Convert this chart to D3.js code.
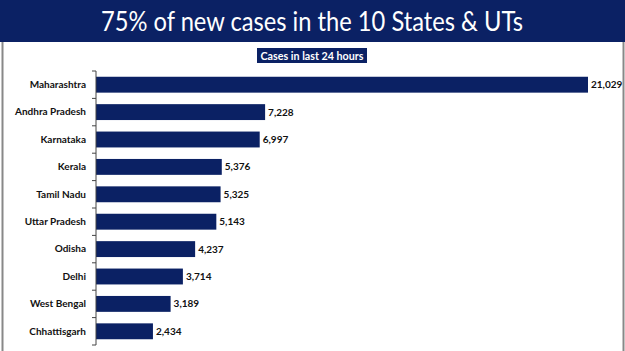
<!DOCTYPE html>
<html>
<head>
    <meta charset="utf-8">
    <title>75% of new cases in the 10 States & UTs</title>
    <script src="https://d3js.org/d3.v7.min.js"></script>
    <style>
        body { margin: 0; background: #fff; }
        svg { display: block; }
    </style>
</head>
<body>
    <div id="chart"></div>

    <script>
        // data
        var states = ["Maharashtra", "Andhra Pradesh", "Karnataka", "Kerala", "Tamil Nadu",
                      "Uttar Pradesh", "Odisha", "Delhi", "West Bengal", "Chhattisgarh"];
        var cases = [21029, 7228, 6997, 5376, 5325, 5143, 4237, 3714, 3189, 2434];

        var width = 625;
        var height = 351;
        var navy = "#0b2164";

        var svg = d3.select("#chart")
            .append("svg")
            .attr("width", width)
            .attr("height", height);

        // frame
        svg.append("rect")
            .attr("x", 2.5).attr("y", 0.5)
            .attr("width", 621).attr("height", 355)
            .attr("fill", "none")
            .attr("stroke", "#888")
            .attr("stroke-width", 2);

        // header band
        svg.append("rect")
            .attr("x", 0).attr("y", 0)
            .attr("width", width).attr("height", 42)
            .attr("fill", navy);

        svg.append("text")
            .attr("x", 312).attr("y", 31)
            .attr("text-anchor", "middle")
            .attr("fill", "#fff")
            .attr("textLength", 422)
            .attr("lengthAdjust", "spacingAndGlyphs")
            .style("font-family", "Lato, 'Open Sans', sans-serif")
            .style("font-size", "26px")
            .text("75% of new cases in the 10 States & UTs");

        // subtitle box
        svg.append("rect")
            .attr("x", 257).attr("y", 48)
            .attr("width", 110).attr("height", 15)
            .attr("fill", navy);

        svg.append("text")
            .attr("x", 312).attr("y", 59.5)
            .attr("text-anchor", "middle")
            .attr("fill", "#fff")
            .attr("textLength", 103)
            .attr("lengthAdjust", "spacingAndGlyphs")
            .style("font-family", "Lato, 'Open Sans', sans-serif")
            .style("font-weight", "bold")
            .style("font-size", "10.5px")
            .text("Cases in last 24 hours");

        // scales
        var x = d3.scaleLinear()
            .domain([0, d3.max(cases)])
            .range([96, 588]);

        var y = d3.scaleBand()
            .domain(states)
            .range([71, 345])
            .paddingInner(0.42)
            .paddingOuter(0.21);

        // bars
        svg.selectAll(".bar")
            .data(cases)
            .enter().append("rect")
            .attr("class", "bar")
            .attr("x", x(0))
            .attr("y", function(d, i) { return y(states[i]); })
            .attr("width", function(d) { return x(d) - x(0); })
            .attr("height", y.bandwidth())
            .attr("fill", navy);

        // value labels
        svg.selectAll(".val")
            .data(cases)
            .enter().append("text")
            .attr("class", "val")
            .attr("x", function(d) { return x(d) + 3; })
            .attr("y", function(d, i) { return y(states[i]) + y.bandwidth() / 2; })
            .attr("dy", "0.35em")
            .attr("fill", "#111")
            .style("font-family", "Lato, 'Open Sans', sans-serif")
            .style("font-weight", "bold")
            .style("font-size", "10px")
            .text(function(d) { return d3.format(",")(d); });

        // category axis with boundary ticks
        var yAxis = svg.append("g")
            .attr("transform", "translate(96,0)")
            .call(d3.axisLeft(y).tickSize(0).tickPadding(10));

        yAxis.select(".domain")
            .attr("stroke", "#444")
            .attr("d", "M0," + y.range()[0] + "V" + y.range()[1]);

        yAxis.selectAll("text")
            .attr("fill", "#111")
            .style("font-family", "Lato, 'Open Sans', sans-serif")
            .style("font-weight", "bold")
            .style("font-size", "10px");

        var step = y.step();
        var bounds = d3.range(states.length + 1).map(function(i) { return y.range()[0] + i * step; });
        yAxis.selectAll(".bound")
            .data(bounds)
            .enter().append("line")
            .attr("class", "bound")
            .attr("x1", -4).attr("x2", 0)
            .attr("y1", function(d) { return d; })
            .attr("y2", function(d) { return d; })
            .attr("stroke", "#444");
    </script>
</body>
</html>
